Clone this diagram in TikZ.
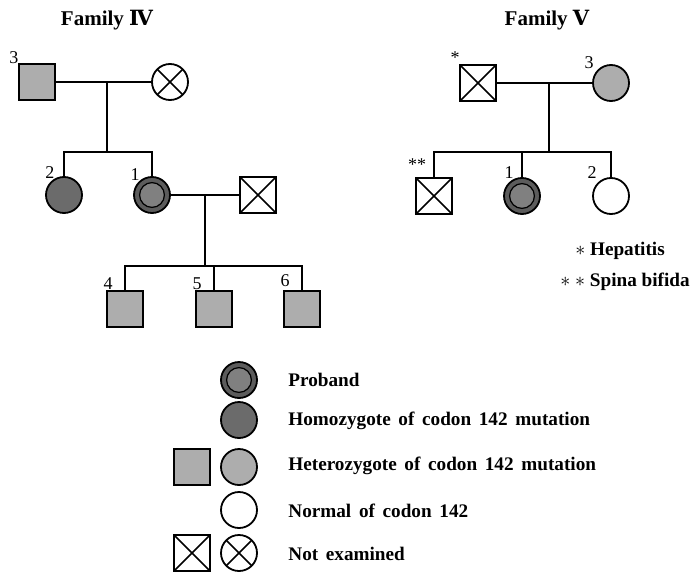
\documentclass[tikz,border=0pt]{standalone}
\usepackage{fontspec}
\setmainfont{Liberation Serif}
\newfontfamily\legfont{Liberation Serif}[WordSpace=1.6]
\newfontfamily\romfont{DejaVu Serif}
\usetikzlibrary{positioning}

\begin{document}
\begin{tikzpicture}[x=0.5pt,y=-0.5pt,
	ind/.style={draw,line width=0.9pt,minimum size=18pt,inner sep=0pt},
	male/.style={ind,rectangle},
	female/.style={ind,circle},
	het/.style={fill=black!32},
	hom/.style={fill=black!58},
	prob/.style={female,fill=black!64,path picture={\draw[line width=0.6pt,fill=black!50] (path picture bounding box.center) circle (6.2pt);}},
	nex/.style={path picture={\draw[line width=0.8pt] (path picture bounding box.north west) -- (path picture bounding box.south east) (path picture bounding box.north east) -- (path picture bounding box.south west);}},
	link/.style={line width=0.6pt},
	num/.style={font=\fontsize{9}{10}\selectfont,inner sep=0pt},
	ttl/.style={font=\fontsize{10.5}{12}\selectfont\bfseries},
	txt/.style={font=\fontsize{9.6}{11}\selectfont\bfseries,inner sep=0pt},
	leg/.style={font=\legfont\fontsize{9.6}{11}\selectfont\bfseries,inner sep=0pt,anchor=west}
	]
	\useasboundingbox (0,0) rectangle (696,573);
	
	% Family IV
	\node[ttl] (t4) at (107,20) {Family {\romfont Ⅳ}};
	\node[male,het] (a3) at (37,82) {};
	\node[female,nex] (a0) at (170,82) {};
	\node[female,hom] (a2) at (64,195) {};
	\node[prob] (a1) at (152,195) {};
	\node[male,nex] (ah) at (258,195) {};
	\node[male,het] (a4) at (125,309) {};
	\node[male,het] (a5) at (214,309) {};
	\node[male,het] (a6) at (302,309) {};
	\coordinate (am) at (107,82);
	\coordinate (as) at (107,152);
	\coordinate (bm) at (205,195);
	\coordinate (bs) at (205,266);
	\draw[link] (a3) -- (a0);
	\draw[link] (am) -- (as);
	\draw[link] (a2) |- (as) -| (a1);
	\draw[link] (a1) -- (ah);
	\draw[link] (bm) -- (bs);
	\draw[link] (a4) |- (bs) -| (a6);
	\draw[link] (a5) -- (a5 |- bs);
	\node[num] (na3) at (14,58) {3};
	\node[num] (na2) at (50,173) {2};
	\node[num] (na1) at (135,175) {1};
	\node[num] (na4) at (108,284) {4};
	\node[num] (na5) at (197,284) {5};
	\node[num] (na6) at (285,281) {6};
	
	% Family V
	\node[ttl] (t5) at (547,20) {Family {\romfont Ⅴ}};
	\node[male,nex] (b0) at (478,83) {};
	\node[female,het] (b3) at (611,83) {};
	\node[male,nex] (bx) at (434,196) {};
	\node[prob] (b1) at (522,196) {};
	\node[female] (b2) at (611,196) {};
	\coordinate (cm) at (549,83);
	\coordinate (cs) at (549,152);
	\draw[link] (b0) -- (b3);
	\draw[link] (cm) -- (cs);
	\draw[link] (bx) |- (cs) -| (b2);
	\draw[link] (b1) -- (b1 |- cs);
	\node[num] (nb0) at (455,58) {*};
	\node[num] (nbx) at (417,165) {**};
	\node[num] (nb3) at (589,63) {3};
	\node[num] (nb1) at (509,173) {1};
	\node[num] (nb2) at (592,173) {2};
	\node[txt] (hep) at (620,251) {$\ast$ Hepatitis};
	\node[txt] (spb) at (625,282) {$\ast$ $\ast$ Spina bifida};
	
	% legend
	\node[prob] (l1) at (239,380) {};
	\node[female,hom] (l2) at (239,420) {};
	\node[female,het] (l3) at (239,467) {};
	\node[male,het] (l3m) at (192,467) {};
	\node[female] (l4) at (239,510) {};
	\node[female,nex] (l5) at (239,553) {};
	\node[male,nex] (l5m) at (192,553) {};
	\node[leg] (x1) at (288,380) {Proband};
	\node[leg] (x2) at (288,421) {Homozygote of codon 142 mutation};
	\node[leg] (x3) at (288,466) {Heterozygote of codon 142 mutation};
	\node[leg] (x4) at (288,511) {Normal of codon 142};
	\node[leg] (x5) at (288,554) {Not examined};
\end{tikzpicture}
\end{document}
